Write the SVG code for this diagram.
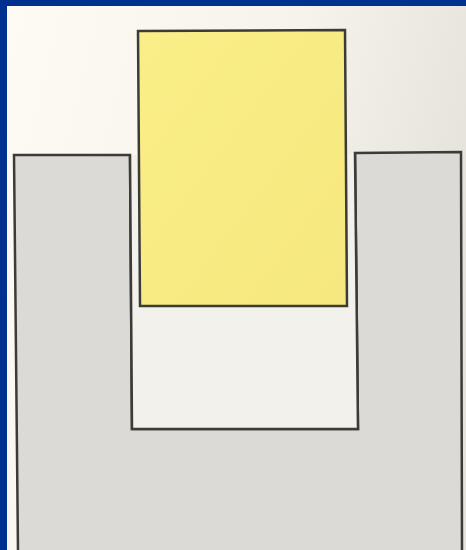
<svg xmlns="http://www.w3.org/2000/svg" width="466" height="550" viewBox="0 0 466 550">
<defs>
<linearGradient id="bg" x1="0" y1="0" x2="1" y2="0.3">
<stop offset="0" stop-color="#fdfbf4"/>
<stop offset="0.6" stop-color="#f6f3ec"/>
<stop offset="1" stop-color="#e6e3dd"/>
</linearGradient>
<linearGradient id="yl" x1="0" y1="0" x2="1" y2="1">
<stop offset="0" stop-color="#faee88"/>
<stop offset="1" stop-color="#f6e87e"/>
</linearGradient>
</defs>
<style>
.ol{stroke:#3b3b37;stroke-width:2.5;stroke-linejoin:miter}
</style>
<rect x="0" y="0" width="466" height="550" fill="#00318f"/>
<rect x="7" y="6" width="459" height="544" fill="url(#bg)"/>
<g id="channel">
<path class="ol" d="M18,552 L14,155 L130,155 L132,429 L358,429 L355,153 L461,152 L462,552" fill="#dcdad6"/>
<path d="M132,429 L358,429 L355,153 L130,155 Z" fill="#f3f1ec" stroke="none"/>
<path class="ol" d="M130,155 L132,429 L358,429 L355,153" fill="none"/>
</g>
<g id="block">
<path class="ol" d="M138,31 L345,30 L347,306 L140,306 Z" fill="url(#yl)"/>
</g>
</svg>
